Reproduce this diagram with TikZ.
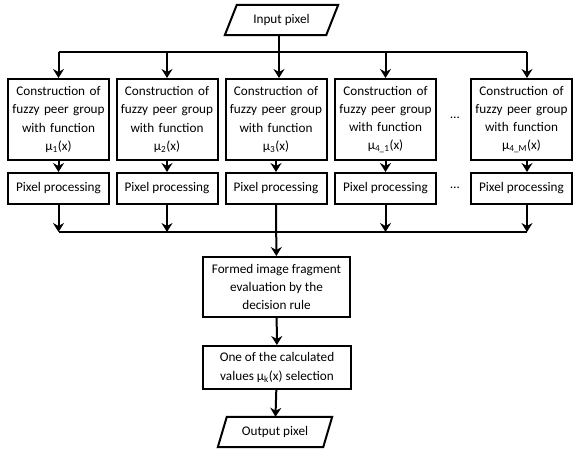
\documentclass[tikz,border=0pt]{standalone}
\usepackage{fontspec}
\setmainfont{Carlito}
\usetikzlibrary{arrows.meta,calc}
\begin{document}
\begin{tikzpicture}[x=1pt,y=-1pt,
  every node/.style={font=\fontsize{13.2}{18.3}\selectfont, inner sep=0pt},
  ln/.style={line width=2pt},
  arr/.style={ln, -{Stealth[length=9pt,width=11pt,inset=3pt]}},
  box/.style={draw, line width=2pt, align=center},
  cbox/.style={box, minimum width=101pt, minimum height=81pt, text width=101pt},
  pbox/.style={box, minimum width=101pt, minimum height=31pt},
  io/.style={minimum height=30pt, align=center}]
\useasboundingbox (0,0) rectangle (573,448);

% input
\node[io, minimum width=101pt] (in) at (281.5,20) {Input pixel};
\draw[ln] ([xshift=-6pt]in.south west) -- ([xshift=6pt]in.north west) -- ([xshift=6pt]in.north east) -- ([xshift=-6pt]in.south east) -- cycle;

% construction boxes
\node[cbox] (b1) at (58.5,119.5) {Construction of\\fuzzy peer group\\with function\\μ\textsubscript{1}(x)};
\node[cbox] (b2) at (167,119.5) {Construction of\\fuzzy peer group\\with function\\μ\textsubscript{2}(x)};
\node[cbox] (b3) at (276,119.5) {Construction of\\fuzzy peer group\\with function\\μ\textsubscript{3}(x)};
\node[cbox] (b4) at (385.5,119.5) {Construction of\\fuzzy peer group\\with function\\μ\textsubscript{4\_1}(x)};
\node[cbox] (b5) at (521.5,119.5) {Construction of\\fuzzy peer group\\with function\\μ\textsubscript{4\_M}(x)};

% processing boxes
\node[pbox] (p1) at (58.5,188.5) {Pixel processing};
\node[pbox] (p2) at (167,188.5) {Pixel processing};
\node[pbox] (p3) at (276,188.5) {Pixel processing};
\node[pbox] (p4) at (385.5,188.5) {Pixel processing};
\node[pbox] (p5) at (521.5,188.5) {Pixel processing};

% dots
\node (d1) at (455,118) {…};
\node (d2) at (455,188) {…};

% lower boxes
\node[box, minimum width=147pt, minimum height=60pt] (fm) at (276.5,287) {Formed image fragment\\evaluation by the\\decision rule};
\node[box, minimum width=148pt, minimum height=43pt] (sel) at (277,367.5) {One of the calculated\\values μ\textsubscript{k}(x) selection};

% output
\node[io, minimum width=105pt] (out) at (275,432) {Output pixel};
\draw[ln] ([xshift=-4.5pt]out.south west) -- ([xshift=4.5pt]out.north west) -- ([xshift=4.5pt]out.north east) -- ([xshift=-4.5pt]out.south east) -- cycle;

% top distribution
\coordinate (tc) at (279,52);
\coordinate (tl) at (58.5,52);
\coordinate (tr) at (527,52);
\draw[ln] (tc |- in.south) -- (tc);
\draw[ln] (tl) -- (tr);
\draw[arr] (tl) -- (tl |- b1.north);
\draw[arr] (tc -| b2) -- (b2.north);
\draw[arr] (tc) -- (tc |- b3.north);
\draw[arr] (tc -| b4) -- (b4.north);
\draw[arr] (tr) -- (tr |- b5.north);

% construction -> processing
\draw[arr] (b1) -- (p1);
\draw[arr] (b2) -- (p2);
\draw[arr] (b3) -- (p3);
\draw[arr] (b4) -- (p4);
\draw[arr] (tr |- b5.south) -- (tr |- p5.north);

% collection
\coordinate (bl) at (58.5,232);
\coordinate (br) at (527,232);
\draw[ln] (bl) -- (br);
\draw[arr] (p1.south) -- (bl);
\draw[arr] (p2.south) -- (p2.south |- bl);
\draw[arr] (p4.south) -- (p4.south |- bl);
\draw[arr] (tr |- p5.south) -- (br);
\draw[arr] (p3) -- (fm);
\draw[arr] (fm) -- (sel);
\draw[arr] (sel) -- (out);
\end{tikzpicture}
\end{document}
